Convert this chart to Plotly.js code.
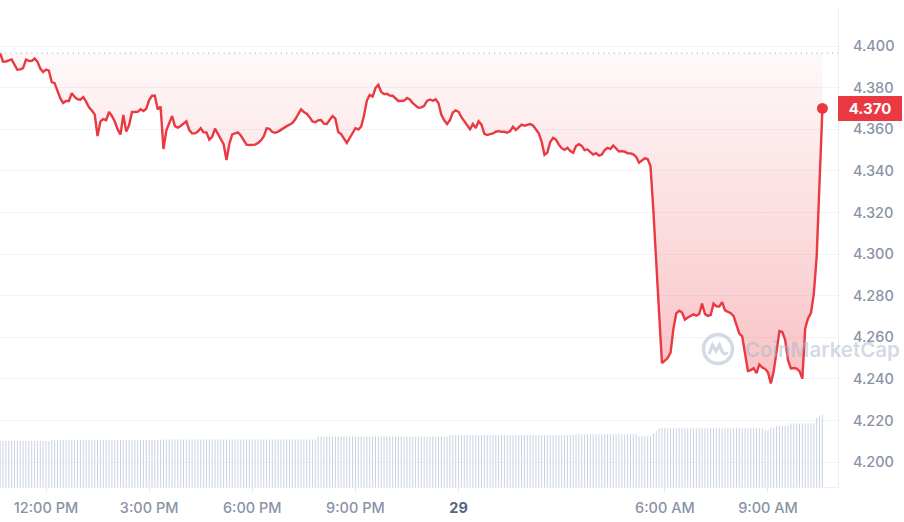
<!DOCTYPE html>
<html><head><meta charset="utf-8">
<script src="https://cdn.plot.ly/plotly-3.0.1.min.js"></script>
<style>html,body{margin:0;padding:0;background:#fff}#chart{width:904px;height:522px}</style>
</head><body><div id="chart"></div>
<script>
// 5-minute samples, 28 → 29 (UTC-free local clock)
const START_TIME = '2025-01-28T10:40:00Z';
const STEP_MINUTES = 5;

const prices = [
 4.3966,4.3925,4.3926,4.3930,4.3936,4.3911,4.3886,4.3888,4.3894,4.3935,4.3929,4.3928,
 4.3940,4.3925,4.3892,4.3875,4.3887,4.3882,4.3827,4.3822,4.3786,4.3748,4.3726,4.3736,
 4.3736,4.3773,4.3755,4.3744,4.3742,4.3755,4.3733,4.3705,4.3690,4.3671,4.3567,4.3638,
 4.3649,4.3644,4.3683,4.3664,4.3637,4.3599,4.3575,4.3669,4.3589,4.3619,4.3683,4.3685,
 4.3684,4.3696,4.3688,4.3699,4.3740,4.3761,4.3761,4.3695,4.3709,4.3505,4.3594,4.3629,
 4.3663,4.3615,4.3608,4.3616,4.3625,4.3638,4.3596,4.3580,4.3580,4.3589,4.3605,4.3585,
 4.3585,4.3550,4.3564,4.3603,4.3578,4.3552,4.3528,4.3452,4.3529,4.3575,4.3582,4.3585,
 4.3570,4.3550,4.3526,4.3524,4.3526,4.3526,4.3534,4.3546,4.3565,4.3604,4.3602,4.3587,
 4.3583,4.3588,4.3597,4.3608,4.3615,4.3622,4.3630,4.3648,4.3671,4.3696,4.3683,4.3675,
 4.3658,4.3638,4.3634,4.3643,4.3644,4.3627,4.3625,4.3647,4.3664,4.3651,4.3587,4.3577,
 4.3553,4.3534,4.3558,4.3585,4.3605,4.3599,4.3613,4.3666,4.3738,4.3765,4.3757,4.3798,
 4.3814,4.3779,4.3769,4.3771,4.3762,4.3761,4.3747,4.3736,4.3736,4.3738,4.3750,4.3743,
 4.3726,4.3713,4.3703,4.3705,4.3713,4.3736,4.3743,4.3737,4.3744,4.3725,4.3669,4.3643,
 4.3625,4.3644,4.3681,4.3691,4.3684,4.3658,4.3640,4.3619,4.3600,4.3625,4.3606,4.3638,
 4.3622,4.3578,4.3572,4.3577,4.3580,4.3588,4.3591,4.3588,4.3588,4.3583,4.3591,4.3612,
 4.3596,4.3609,4.3622,4.3617,4.3622,4.3625,4.3618,4.3600,4.3581,4.3540,4.3477,4.3488,
 4.3539,4.3559,4.3550,4.3526,4.3509,4.3501,4.3511,4.3495,4.3487,4.3519,4.3528,4.3520,
 4.3500,4.3503,4.3488,4.3478,4.3485,4.3473,4.3478,4.3500,4.3511,4.3505,4.3522,4.3507,
 4.3493,4.3495,4.3492,4.3484,4.3484,4.3479,4.3467,4.3439,4.3450,4.3460,4.3457,4.3423,
 4.3209,4.2986,4.2716,4.2476,4.2486,4.2500,4.2526,4.2642,4.2715,4.2727,4.2719,4.2685,
 4.2695,4.2704,4.2710,4.2704,4.2712,4.2762,4.2712,4.2703,4.2707,4.2761,4.2749,4.2748,
 4.2769,4.2729,4.2724,4.2716,4.2702,4.2660,4.2617,4.2604,4.2517,4.2438,4.2442,4.2451,
 4.2427,4.2469,4.2454,4.2448,4.2431,4.2378,4.2436,4.2522,4.2630,4.2625,4.2587,4.2490,
 4.2450,4.2452,4.2449,4.2437,4.2401,4.2644,4.2691,4.2716,4.2808,4.2988,4.3308,4.3700
];

// 24h volume (millions), one bar per sample
const volumes = [
 11.5,11.5,11.5,11.5,11.5,11.5,11.5,11.5,11.5,11.5,11.5,11.5,
 11.5,11.5,11.5,11.5,11.5,11.5,11.75,11.75,11.75,11.75,11.75,11.75,
 11.75,11.75,11.75,11.75,11.75,11.75,11.75,11.75,11.75,11.75,11.75,11.75,
 11.75,11.75,11.75,11.75,11.75,11.75,11.75,11.75,11.75,11.75,11.75,11.75,
 11.75,11.75,11.75,11.75,11.75,11.75,11.75,11.75,11.75,11.9,11.9,11.9,
 11.9,11.9,11.9,11.9,11.9,11.9,11.9,11.9,11.9,11.9,11.9,11.9,
 11.9,11.9,11.9,11.9,11.9,11.9,11.9,11.9,11.9,11.9,11.9,11.9,
 11.9,11.9,11.9,11.9,11.9,11.9,11.9,11.9,11.9,11.9,11.9,11.9,
 11.9,11.9,11.9,11.9,11.9,11.9,11.9,11.9,11.9,11.9,11.9,11.9,
 11.9,11.9,11.9,12.6,12.6,12.6,12.6,12.6,12.6,12.6,12.6,12.6,
 12.6,12.6,12.6,12.6,12.6,12.6,12.6,12.6,12.6,12.6,12.6,12.6,
 12.6,12.6,12.6,12.6,12.6,12.6,12.6,12.6,12.6,12.6,12.6,12.6,
 12.6,12.6,12.6,12.6,12.6,12.6,12.6,12.6,12.6,12.6,12.6,12.6,
 12.6,13.0,13.0,13.0,13.0,13.0,13.0,13.0,13.0,13.0,13.0,13.0,
 13.0,13.0,13.0,13.0,13.0,13.0,13.0,13.0,13.0,13.0,13.0,13.0,
 13.0,13.0,13.0,13.0,13.0,13.0,13.0,13.0,13.0,13.0,13.0,13.0,
 13.0,13.0,13.0,13.0,13.0,13.0,13.0,13.0,13.0,13.2,13.2,13.2,
 13.2,13.2,13.2,13.2,13.2,13.2,13.2,13.2,13.2,13.2,13.2,13.2,
 13.2,13.2,13.2,13.2,13.2,13.2,13.2,12.7,12.7,12.7,12.7,12.7,
 13.4,14.0,14.7,14.7,14.7,14.7,14.7,14.7,14.7,14.7,14.7,14.7,
 14.7,14.7,14.7,14.7,14.7,14.7,14.7,14.7,14.7,14.7,14.7,14.7,
 14.7,14.7,14.7,14.7,14.7,14.7,14.7,14.7,14.7,14.7,14.7,14.7,
 14.7,14.7,14.7,14.25,14.25,14.9,14.9,15.25,15.25,15.25,15.25,15.25,
 15.9,15.9,15.9,15.9,15.9,15.9,15.9,15.9,16.0,17.3,17.8,18.0
];

const priceTicks = [4.20,4.22,4.24,4.26,4.28,4.30,4.32,4.34,4.36,4.38,4.40];
const timeTicks = ['2025-01-28 12:00','2025-01-28 15:00','2025-01-28 18:00','2025-01-28 21:00','2025-01-29 00:00','2025-01-29 06:00','2025-01-29 09:00'];
const timeTickLabels = ['12:00 PM','3:00 PM','6:00 PM','9:00 PM','<b><span style="color:#58667e">29</span></b>','6:00 AM','9:00 AM'];
const xRange = ['2025-01-28 10:39:43','2025-01-29 11:02:13'];
const yRange = [4.188, 4.4183];

const RED = '#ea3943';
const t0 = Date.parse(START_TIME);
const times = prices.map((_, i) => new Date(t0 + i * STEP_MINUTES * 60000).toISOString().slice(0,19).replace('T',' '));
const openPrice = prices[0];
const lastPrice = prices[prices.length - 1];
const lastTime = times[times.length - 1];

const traces = [
  {
    type: 'bar', x: times, y: volumes, yaxis: 'y2',
    width: STEP_MINUTES * 60000 * 0.36,
    marker: {color: '#cbd3e3', line: {width: 0}},
    hoverinfo: 'skip'
  },
  {
    type: 'scatter', mode: 'lines', x: [times[0], lastTime], y: [openPrice, openPrice],
    line: {width: 0, color: 'rgba(0,0,0,0)'}, hoverinfo: 'skip', showlegend: false
  },
  {
    type: 'scatter', mode: 'lines', x: times, y: prices,
    line: {color: RED, width: 2.4, shape: 'linear'},
    fill: 'tonexty',
    fillgradient: {
      type: 'vertical',
      start: 4.243, stop: openPrice,
      colorscale: [[0, 'rgba(234,57,67,0.30)'], [1, 'rgba(234,57,67,0.03)']]
    },
    hoverinfo: 'skip'
  },
  {
    type: 'scatter', mode: 'markers', x: [lastTime], y: [lastPrice],
    marker: {color: RED, size: 11}, hoverinfo: 'skip'
  }
];

const wmColor = 'rgba(168,180,204,0.5)';
const wmY = 4.2543;
const layout = {
  width: 904, height: 522,
  margin: {l: 0, r: 66, t: 8, b: 35, pad: 0},
  paper_bgcolor: '#ffffff', plot_bgcolor: '#ffffff',
  showlegend: false,
  font: {family: 'Inter, "Noto Sans", sans-serif', color: '#8a93a6', size: 14},
  xaxis: {
    type: 'date', range: xRange, fixedrange: true,
    tickvals: timeTicks, ticktext: timeTickLabels,
    showgrid: false, zeroline: false,
    showline: true, linecolor: '#eceff4', linewidth: 1,
    ticks: 'outside', ticklen: 4, tickcolor: '#e3e7ee', tickwidth: 1,
    ticklabelstandoff: 4,
    tickfont: {family: 'Inter, sans-serif', size: 14.5, color: '#8a93a6', weight: 500}
  },
  yaxis: {
    side: 'right', range: yRange, fixedrange: true,
    tickvals: priceTicks, tickformat: '.3f',
    showgrid: true, gridcolor: '#f3f4f7', gridwidth: 1,
    zeroline: false, showline: true, linecolor: '#eceff4', linewidth: 1,
    ticks: '', ticklabelstandoff: 11,
    tickfont: {family: 'Inter, sans-serif', size: 14.5, color: '#8a93a6', weight: 500}
  },
  yaxis2: {overlaying: 'y', range: [0, 119.75], visible: false, fixedrange: true},
  shapes: [
    {type: 'line', xref: 'paper', x0: 0, x1: 1, yref: 'y', y0: openPrice, y1: openPrice,
     line: {color: '#a9b1c0', width: 1, dash: '1.2px,4px'}, layer: 'above'},
    {type: 'circle', xref: 'paper', yref: 'y', xsizemode: 'pixel', ysizemode: 'pixel',
     xanchor: 718 / 838, yanchor: wmY, x0: -14.5, x1: 14.5, y0: -14.5, y1: 14.5,
     line: {color: wmColor, width: 3.5}, fillcolor: 'rgba(0,0,0,0)', layer: 'above'},
    {type: 'path', xref: 'paper', yref: 'y', xsizemode: 'pixel', ysizemode: 'pixel',
     xanchor: 718 / 838, yanchor: wmY,
     path: 'M -9,-5 L -5.5,4 L -2,-2 L 1.5,4 L 4.5,-3 C 6,-6 8,-5 9.5,-3',
     line: {color: wmColor, width: 3.2}, layer: 'above'}
  ],
  annotations: [
    {xref: 'paper', x: 1, xanchor: 'left', xshift: 0, yref: 'y', y: lastPrice, yanchor: 'middle',
     text: '<b>' + lastPrice.toFixed(3) + '</b>', showarrow: false,
     font: {family: 'Inter, sans-serif', size: 15, color: '#ffffff'},
     bgcolor: RED, width: 64, height: 25, borderpad: 0, borderwidth: 0, align: 'center'},
    {xref: 'paper', x: 743 / 838, xanchor: 'left', yref: 'y', y: wmY, yanchor: 'middle',
     text: 'CoinMarketCap', showarrow: false,
     font: {family: 'Inter, sans-serif', size: 20.5, color: wmColor, weight: 600}}
  ]
};

Plotly.newPlot('chart', traces, layout, {staticPlot: true, displayModeBar: false});
</script>
</body></html>
